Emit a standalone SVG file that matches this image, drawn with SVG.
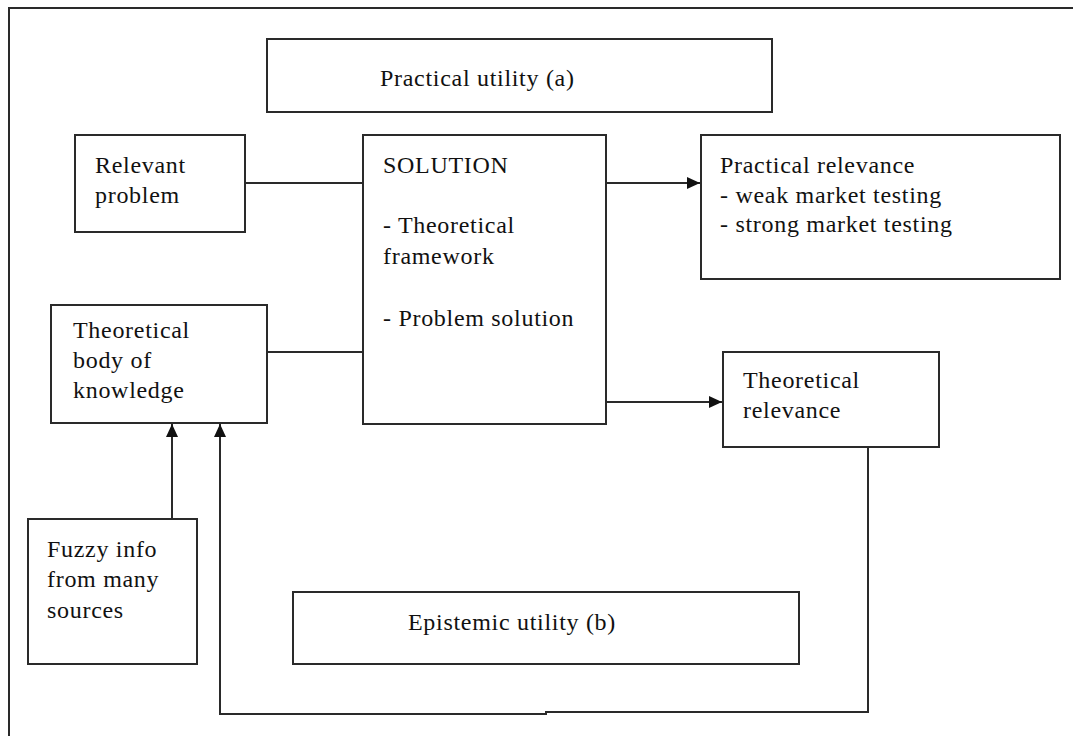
<svg xmlns="http://www.w3.org/2000/svg" width="1073" height="736" viewBox="0 0 1073 736">
<style>
.box{fill:#fff;stroke:#2a2a2a;stroke-width:2}
.ln{fill:none;stroke:#2a2a2a;stroke-width:2}
text{font-family:"Liberation Serif","Times New Roman",serif;font-size:24px;fill:#111;letter-spacing:0.7px}
</style>
<defs>
<marker id="ah" markerWidth="13" markerHeight="12" refX="13" refY="6" orient="auto" markerUnits="userSpaceOnUse">
<path d="M0,0 L13,6 L0,12 Z" fill="#111"/>
</marker>
</defs>
<rect x="0" y="0" width="1073" height="736" fill="#fff"/>
<path class="ln" d="M9,736 V8 H1073"/>
<g id="practical-utility"><rect class="box" x="267" y="39" width="505" height="73"/><text x="380" y="86">Practical utility (a)</text></g>
<g id="relevant-problem"><rect class="box" x="75" y="135" width="170" height="97"/><text x="95" y="173">Relevant</text><text x="95" y="203">problem</text></g>
<g id="solution"><rect class="box" x="363" y="135" width="243" height="289"/><text x="383" y="173">SOLUTION</text><text x="383" y="233">- Theoretical</text><text x="383" y="264">framework</text><text x="383" y="326">- Problem solution</text></g>
<g id="practical-relevance"><rect class="box" x="701" y="135" width="359" height="144"/><text x="720" y="173">Practical relevance</text><text x="720" y="203">- weak market testing</text><text x="720" y="232">- strong market testing</text></g>
<g id="theoretical-body"><rect class="box" x="51" y="305" width="216" height="118"/><text x="73" y="338">Theoretical</text><text x="73" y="368">body of</text><text x="73" y="398">knowledge</text></g>
<g id="theoretical-relevance"><rect class="box" x="723" y="352" width="216" height="95"/><text x="743" y="388">Theoretical</text><text x="743" y="418">relevance</text></g>
<g id="fuzzy-info"><rect class="box" x="28" y="519" width="169" height="145"/><text x="47" y="557">Fuzzy info</text><text x="47" y="587">from many</text><text x="47" y="618">sources</text></g>
<g id="epistemic-utility"><rect class="box" x="293" y="592" width="506" height="72"/><text x="408" y="630">Epistemic utility (b)</text></g>
<g id="connectors">
<path class="ln" d="M245,183 H363"/>
<path class="ln" d="M267,352 H363"/>
<path class="ln" d="M606,183 H700" marker-end="url(#ah)"/>
<path class="ln" d="M606,402 H722" marker-end="url(#ah)"/>
<path class="ln" d="M172,519 V424" marker-end="url(#ah)"/>
<path class="ln" d="M868,447 V712 H546 V714 H220 V424" marker-end="url(#ah)"/>
</g>
</svg>
